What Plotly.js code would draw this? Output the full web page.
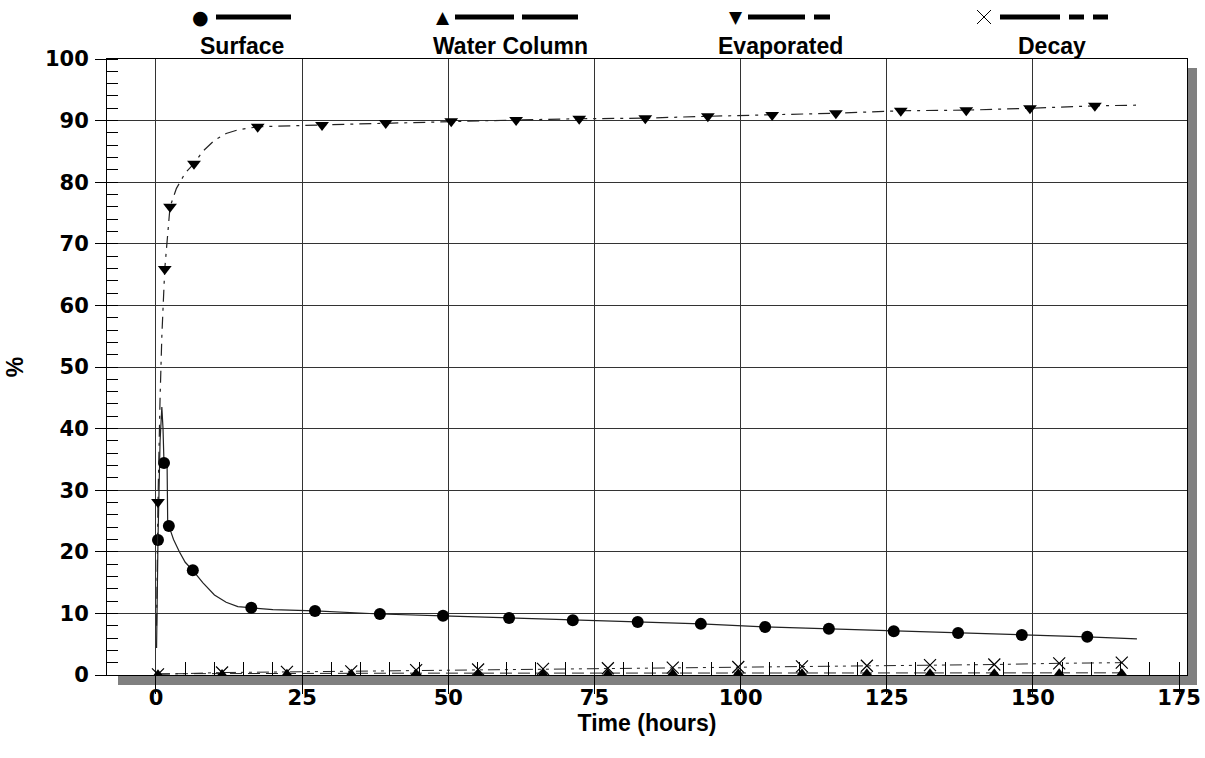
<!DOCTYPE html>
<html>
<head>
<meta charset="utf-8">
<script src="https://cdn.plot.ly/plotly-3.0.1.min.js"></script>
<style>html,body{margin:0;padding:0;background:#fff;}#chart{width:1205px;height:758px;}</style>
</head>
<body>
<div id="chart"></div>
<script>
// ---- Data ----
// Surface: model curve and plotted markers
const surfaceLineT = [0.1,0.34,0.7,1.0,1.2,1.37,1.9,2.0,2.2,3,4,5,6.3,8,10,12,14,16.3,20,27.2,38.3,49.1,60.4,71.3,82.4,93.2,104.2,115.1,126.2,137.2,148.1,159.3,167.8];
const surfaceLineV = [4.4,21.9,38,43.5,40,34.4,34,25,24.2,22,20,18.3,17.0,15,13,11.8,11.1,10.9,10.6,10.4,9.9,9.6,9.25,8.9,8.6,8.3,7.8,7.5,7.1,6.8,6.5,6.2,5.85];
const surfaceMarkT = [0.34,1.37,2.2,6.3,16.3,27.2,38.3,49.1,60.4,71.3,82.4,93.2,104.2,115.1,126.2,137.2,148.1,159.3];
const surfaceMarkV = [21.9,34.4,24.2,17.0,10.9,10.4,9.9,9.6,9.25,8.9,8.6,8.3,7.8,7.5,7.1,6.8,6.5,6.2];

// Evaporated
const evapLineT = [0.1,0.34,0.7,1.0,1.5,2.0,2.4,3.5,5,6.5,8,10,12,14,17.4,28.4,39.3,50.5,61.6,72.4,83.7,94.4,105.4,116.3,127.4,138.6,149.5,160.6,167.8];
const evapLineV = [8,28.1,45,55,65.9,72,76,79,81.5,83,85,86.8,87.9,88.5,89.0,89.3,89.6,89.9,90.1,90.3,90.4,90.7,90.9,91.2,91.6,91.7,92.0,92.4,92.5];
const evapMarkT = [0.34,1.5,2.4,6.5,17.4,28.4,39.3,50.5,61.6,72.4,83.7,94.4,105.4,116.3,127.4,138.6,149.5,160.6];
const evapMarkV = [28.1,65.9,76,83,89.0,89.3,89.6,89.9,90.1,90.3,90.4,90.7,90.9,91.2,91.6,91.7,92.0,92.4];

// Water Column and Decay (same sample times)
const sampleT = [0.34,11.3,22.4,33.4,44.5,55.1,66.2,77.3,88.4,99.6,110.5,121.6,132.4,143.4,154.5,165.2];
const waterV  = [0.2,0.25,0.3,0.3,0.3,0.3,0.3,0.3,0.35,0.35,0.35,0.35,0.35,0.35,0.35,0.35];
const decayV  = [0.1,0.4,0.5,0.6,0.8,0.9,1.0,1.1,1.2,1.3,1.4,1.5,1.6,1.7,1.9,2.0];

const seriesNames = ['Surface','Water Column','Evaporated','Decay'];
const xTicks = [0,25,50,75,100,125,150,175];
const xGridTicks = [0,25,50,75,100,125,150];
const xMinorTicks = [5,10,15,20,30,35,40,45,55,60,65,70,80,85,90,95,105,110,115,120,130,135,140,145,155,160,165,170,175];
const yTicks = [0,10,20,30,40,50,60,70,80,90,100];

// ---- Layout geometry (pixels) ----
const W = 1205, H = 758;
const mL = 107, mR = 18, mT = 59, mB = 83;
const pw = W - mL - mR, ph = H - mT - mB;
const px = v => (v - mL) / pw;          // pixel x -> paper
const py = v => (H - mB - v) / ph;      // pixel y -> paper
const xRange = [-8.38, 176.36];

const lineCol = '#222';
const traces = [
  {x: surfaceLineT, y: surfaceLineV, mode: 'lines', line: {color: lineCol, width: 1.2}, hoverinfo: 'skip', showlegend: false},
  {x: surfaceMarkT, y: surfaceMarkV, mode: 'markers', name: seriesNames[0], marker: {symbol: 'circle', size: 12, color: '#000'}, showlegend: false},
  {x: sampleT, y: waterV, mode: 'lines+markers', name: seriesNames[1], line: {color: lineCol, width: 1, dash: '12px,6px'}, marker: {symbol: 'triangle-up', size: 9, color: '#000'}, showlegend: false, xaxis: 'x2'},
  {x: evapLineT, y: evapLineV, mode: 'lines', line: {color: lineCol, width: 1.2, dash: '12px,6px,3px,6px'}, hoverinfo: 'skip', showlegend: false},
  {x: evapMarkT, y: evapMarkV, mode: 'markers', name: seriesNames[2], marker: {symbol: 'triangle-down', size: 12, color: '#000'}, showlegend: false},
  {x: sampleT, y: decayV, mode: 'lines+markers', name: seriesNames[3], line: {color: lineCol, width: 1, dash: '12px,5px,3px,5px,3px,5px'}, marker: {symbol: 'x-thin-open', size: 12, color: '#000', line: {width: 1.2, color: '#000'}}, showlegend: false}
];

const tickFont = {family: 'DejaVu Sans', size: 21, color: '#000', weight: 'bold'};
const labelFont = {family: 'Liberation Sans', size: 23, color: '#000', weight: 'bold'};

// Legend decoration (custom, symbol + line sample above, label below)
const legY = 17, labY = 46;
const legend = [
  {sym: '●', sx: 200, segs: [[216,291]], lx: 242, symSize: 19},
  {sym: '▲', sx: 443, segs: [[455,514],[522,578]], lx: 510, symSize: 17},
  {sym: '▼', sx: 736, segs: [[748,805],[814,830]], lx: 780, symSize: 17},
  {sym: '', sx: 984, segs: [[1000,1060],[1069,1084],[1093,1108]], lx: 1052, symSize: 0}
];
const annotations = [];
const shapes = [];
legend.forEach((l, i) => {
  if (l.sym) annotations.push({xref: 'paper', yref: 'paper', x: px(l.sx), y: py(legY), text: l.sym, showarrow: false, xanchor: 'center', yanchor: 'middle', font: {family: 'DejaVu Sans', size: l.symSize, color: '#000'}});
  annotations.push({xref: 'paper', yref: 'paper', x: px(l.lx), y: py(labY), text: seriesNames[i], showarrow: false, xanchor: 'center', yanchor: 'middle', font: labelFont});
  l.segs.forEach(s => shapes.push({type: 'line', xref: 'paper', yref: 'paper', x0: px(s[0]), x1: px(s[1]), y0: py(legY), y1: py(legY), line: {color: '#000', width: 5}}));
});
// thin "x" glyph of the Decay legend entry
const xs = legend[3].sx;
shapes.push({type: 'line', xref: 'paper', yref: 'paper', x0: px(xs - 7), x1: px(xs + 7), y0: py(legY - 7), y1: py(legY + 7), line: {color: '#000', width: 1}});
shapes.push({type: 'line', xref: 'paper', yref: 'paper', x0: px(xs - 7), x1: px(xs + 7), y0: py(legY + 7), y1: py(legY - 7), line: {color: '#000', width: 1}});
// drop shadow of the plot frame
shapes.push({type: 'rect', xref: 'paper', yref: 'paper', layer: 'below', x0: px(118), x1: px(1197), y0: py(685), y1: py(675), fillcolor: '#808080', line: {width: 0}});
shapes.push({type: 'rect', xref: 'paper', yref: 'paper', layer: 'below', x0: px(1187), x1: px(1197), y0: py(685), y1: py(68), fillcolor: '#808080', line: {width: 0}});

const layout = {
  width: W, height: H,
  margin: {l: mL, r: mR, t: mT, b: mB, pad: 0},
  paper_bgcolor: '#fff', plot_bgcolor: 'rgba(0,0,0,0)',
  showlegend: false,
  xaxis: {
    range: xRange, tickvals: xTicks, ticktext: xTicks.map(String),
    ticks: 'outside', ticklen: 18, tickwidth: 1, tickcolor: '#000',
    showgrid: false, zeroline: false,
    showline: true, linecolor: '#000', linewidth: 1, mirror: true,
    tickfont: tickFont, ticklabelstandoff: -14,
    title: {text: 'Time (hours)', font: labelFont, standoff: 2}
  },
  xaxis2: {
    overlaying: 'x', range: xRange, tickvals: xGridTicks,
    showgrid: true, gridcolor: '#333', gridwidth: 1,
    showticklabels: false, ticks: '', zeroline: false, showline: false,
    minor: {tickvals: xMinorTicks, ticks: 'inside', ticklen: 13, tickcolor: '#000', tickwidth: 1, showgrid: false}
  },
  yaxis: {
    range: [0, 100], tickvals: yTicks, ticktext: yTicks.map(String),
    ticks: 'outside', ticklen: 11, tickwidth: 1, tickcolor: '#000',
    showgrid: true, gridcolor: '#333', gridwidth: 1, zeroline: false,
    showline: true, linecolor: '#000', linewidth: 1, mirror: true,
    tickfont: tickFont, ticklabelstandoff: 2,
    minor: {dtick: 2, ticks: 'inside', ticklen: 11, tickcolor: '#000', tickwidth: 1, showgrid: false},
    title: {text: '%', font: labelFont, standoff: 14}
  },
  annotations: annotations,
  shapes: shapes
};

Plotly.newPlot('chart', traces, layout, {displayModeBar: false, staticPlot: true});
</script>
</body>
</html>
